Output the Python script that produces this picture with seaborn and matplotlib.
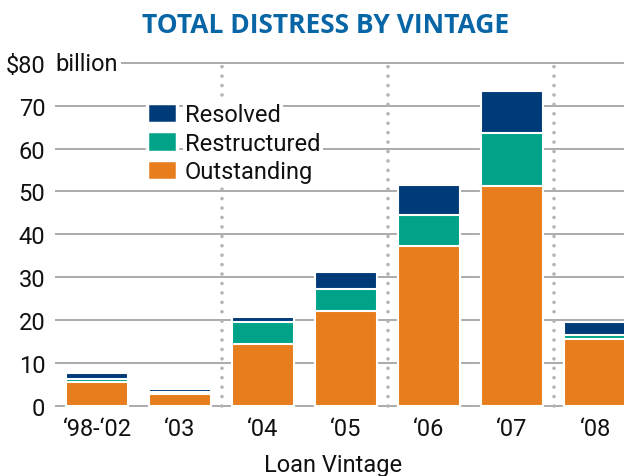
import matplotlib
matplotlib.use("Agg")
import matplotlib.pyplot as plt
from matplotlib.patches import Patch
import seaborn as sns
import pandas as pd
import numpy as np

vintages = ["\u201898-\u201802", "\u201803", "\u201804", "\u201805", "\u201806", "\u201807", "\u201808"]
outstanding = [5.4, 2.6, 14.4, 22.0, 37.2, 51.2, 15.5]
restructured = [0.8, 0.6, 5.2, 5.2, 7.2, 12.5, 1.0]
resolved = [1.5, 0.6, 1.1, 4.1, 7.2, 9.8, 2.9]
yticks = [0, 10, 20, 30, 40, 50, 60, 70, 80]
ytick_labels = ["0", "10", "20", "30", "40", "50", "60", "70", "$80"]
series_names = ["Resolved", "Restructured", "Outstanding"]

c_out = "#e87d1e"
c_res = "#00a388"
c_rsv = "#003b79"
grid_c = "#ababab"
dot_c = "#b4b4b8"
title_c = "#0866a6"

df = pd.DataFrame({"vintage": vintages, "outstanding": outstanding,
                   "restructured": restructured, "resolved": resolved})
df["lvl2"] = df["outstanding"] + df["restructured"]
df["lvl3"] = df["lvl2"] + df["resolved"]

sns.set_theme(style="white")
font = ["Roboto", "DejaVu Sans"]
plt.rcParams["font.family"] = font
FS = 17

fig = plt.figure(figsize=(6.24, 4.77), dpi=100)
ax = fig.add_axes([55 / 624, 0.1388, 1 - 55 / 624, 0.736])

for col, c in [("lvl3", c_rsv), ("lvl2", c_res), ("outstanding", c_out)]:
    sns.barplot(data=df, x="vintage", y=col, color=c, saturation=1, width=0.74,
                edgecolor="white", linewidth=1.5, ax=ax, zorder=3)

for yv in yticks:
    ax.axhline(yv, color=grid_c, lw=1.4, zorder=1)
for xv in [1.5, 3.5, 5.5]:
    ax.plot([xv, xv], [0, 80], color=dot_c, lw=2.6, ls=(0, (0.01, 2.6)),
            solid_capstyle="round", dash_capstyle="round", zorder=2)

ax.set_xlim(-0.506, 6.349)
ax.set_ylim(-1, 81)
ax.set_yticks(yticks)
ax.set_yticklabels(ytick_labels)
ax.tick_params(axis="both", length=0, labelsize=FS, colors="#111111")
ax.tick_params(axis="y", pad=7)
ax.tick_params(axis="x", pad=5)
ax.set_xlabel("")
ax.set_ylabel("")
for s in ax.spines.values():
    s.set_visible(False)

ax.text(-0.506 + 0.005, 80, "billion", fontsize=FS, va="center", ha="left", color="#111111",
        bbox=dict(facecolor="white", edgecolor="none", pad=2.5), zorder=4)

handles = [Patch(facecolor=c, edgecolor="white", linewidth=2.5) for c in [c_rsv, c_res, c_out]]
leg = fig.legend(handles, series_names, loc="upper left", bbox_to_anchor=(0.236, 0.782),
                 frameon=False, fontsize=FS, handlelength=1.25, handleheight=0.95,
                 handletextpad=0.35, labelspacing=0.22, borderpad=0, borderaxespad=0)
for t in leg.get_texts():
    t.set_bbox(dict(facecolor="white", edgecolor="none", pad=1.5))
    t.set_color("#111111")
leg.set_zorder(10)

fig.text(326 / 624, 1 - 33 / 477, "TOTAL DISTRESS BY VINTAGE", fontsize=19, fontweight="bold",
         color=title_c, ha="center", va="baseline", family=["Open Sans", "DejaVu Sans"])
fig.text(333 / 624, 1 - 472 / 477, "Loan Vintage", fontsize=FS, ha="center", va="baseline",
         color="#111111")

fig.savefig("out.png", dpi=100)
